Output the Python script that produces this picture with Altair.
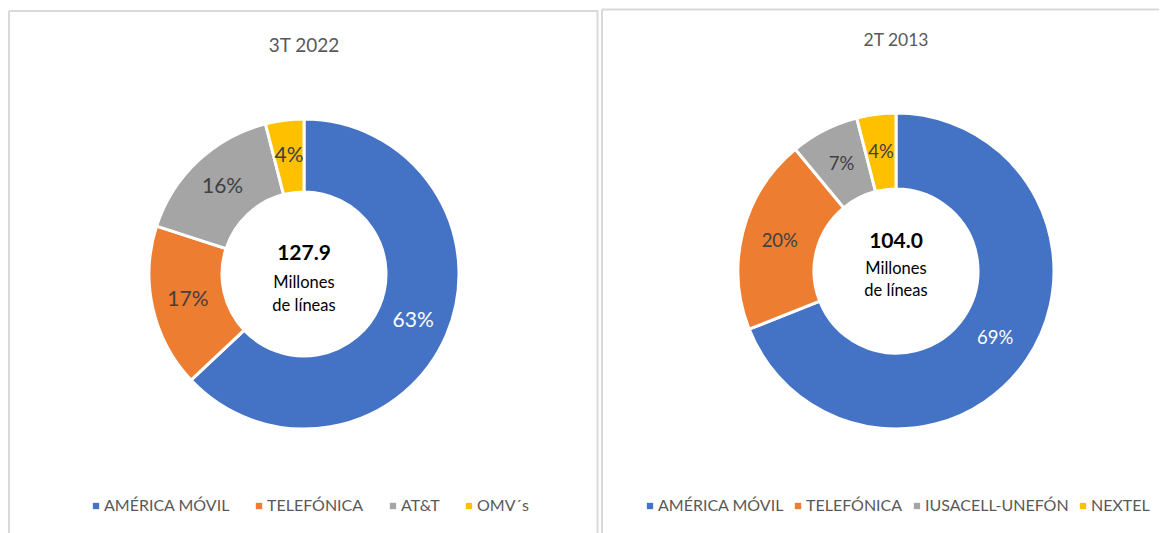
import altair as alt
import pandas as pd

# ---- data ----
left_title = "3T 2022"
left_total = "127.9"
left_cats = ["AMÉRICA MÓVIL", "TELEFÓNICA", "AT&T", "OMV´s"]
left_vals = [63, 17, 16, 4]

right_title = "2T 2013"
right_total = "104.0"
right_cats = ["AMÉRICA MÓVIL", "TELEFÓNICA", "IUSACELL-UNEFÓN", "NEXTEL"]
right_vals = [69, 20, 7, 4]

center_sub = ["Millones", "de líneas"]
colors = ["#4472C4", "#ED7D31", "#A5A5A5", "#FFC000"]

FONT = "Lato"
GRID = "#D9D9D9"


def panel(title, total, cats, vals, W, H, cx, cy, r_out, r_in, r_lab,
          title_y, title_size, lab_size, cy_total, cy_sub, sub_gap,
          leg_x, leg_y, col_pad, borders):
    df = pd.DataFrame({
        "cat": cats,
        "val": vals,
        "idx": list(range(len(cats))),
        "lab": [f"{v}%" for v in vals],
    })
    base = alt.Chart(df).encode(
        theta=alt.Theta("val:Q", stack=True),
        order=alt.Order("idx:Q"),
    )
    arc = base.mark_arc(outerRadius=r_out, innerRadius=r_in,
                        stroke="white", strokeWidth=3).encode(
        x=alt.value(cx), y=alt.value(cy),
        color=alt.Color(
            "cat:N", sort=cats,
            scale=alt.Scale(domain=cats, range=colors),
            legend=alt.Legend(
                orient="none", legendX=leg_x, legendY=leg_y,
                direction="horizontal", title=None, symbolType="square",
                symbolSize=40, symbolStrokeWidth=0, labelFont=FONT,
                labelFontSize=16, labelColor="#595959", labelOffset=0,
                columnPadding=col_pad, padding=0,
            ),
        ),
    )
    labels = base.mark_text(radius=r_lab, fontSize=lab_size, font=FONT).encode(
        x=alt.value(cx), y=alt.value(cy),
        text="lab:N",
        color=alt.condition("datum.idx == 0", alt.value("#FFFFFF"),
                            alt.value("#404040")),
    )
    tdf = pd.DataFrame({"t": [title]})
    ttl = alt.Chart(tdf).mark_text(fontSize=title_size, font=FONT,
                                   color="#595959").encode(
        x=alt.value(cx), y=alt.value(title_y), text="t:N")
    tot = alt.Chart(pd.DataFrame({"t": [total]})).mark_text(
        fontSize=21, font=FONT, fontWeight="bold", color="#000000").encode(
        x=alt.value(cx), y=alt.value(cy_total), text="t:N")
    sub1 = alt.Chart(pd.DataFrame({"t": [center_sub[0]]})).mark_text(
        fontSize=16.5, font=FONT, color="#000000").encode(
        x=alt.value(cx), y=alt.value(cy_sub), text="t:N")
    sub2 = alt.Chart(pd.DataFrame({"t": [center_sub[1]]})).mark_text(
        fontSize=16.5, font=FONT, color="#000000").encode(
        x=alt.value(cx), y=alt.value(cy_sub + sub_gap), text="t:N")
    layers = [arc, labels, ttl, tot, sub1, sub2]
    for b in borders:
        layers.append(
            alt.Chart(pd.DataFrame({"k": [0]})).mark_rule(
                color=GRID, strokeWidth=2).encode(
                x=alt.value(b[0]), y=alt.value(b[1]),
                x2=alt.value(b[2]), y2=alt.value(b[3]))
        )
    return alt.layer(*layers).properties(width=W, height=H)


H = 524
left = panel(left_title, left_total, left_cats, left_vals,
             590, H, 296, 265, 155, 82, 119, 37, 19, 21, 245, 274, 23,
             80, 489, 21,
             [(1, 2, 1, H), (1, 2, 590, 2), (589.5, 2, 589.5, H)])
right = panel(right_title, right_total, right_cats, right_vals,
              558, H, 295, 262, 158, 82, 120, 32, 17.5, 18.5, 233, 260, 22,
              41, 489, 6,
              [(1, 0.5, 1, H), (1, 0.5, 558, 0.5)])

chart = alt.hconcat(left, right, spacing=2).resolve_scale(
    color="independent", theta="independent"
).properties(
    padding={"left": 0, "top": 0, "right": 0, "bottom": 0}
).configure_view(stroke=None)

chart.save("out.html", embed_options={"renderer": "svg", "actions": False})
